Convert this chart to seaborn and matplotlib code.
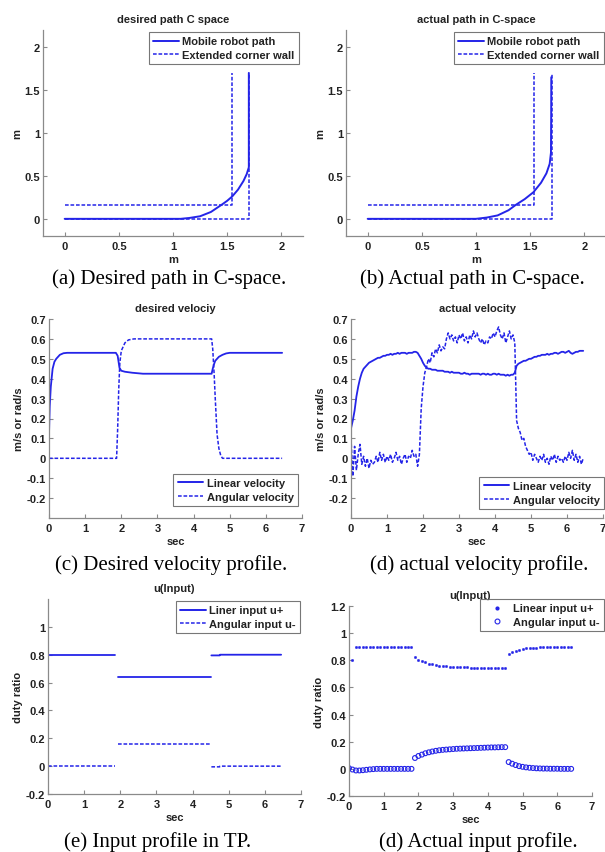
import numpy as np
import pandas as pd
import matplotlib
matplotlib.use("Agg")
import matplotlib.pyplot as plt
from matplotlib.lines import Line2D
from matplotlib.ticker import FuncFormatter
import seaborn as sns

sns.set_style("ticks")
plt.rcParams["font.family"] = ["Liberation Sans", "DejaVu Sans"]

BLUE = "#2424e8"
DASH = (0, (2.4, 1.2))

# ---------------- (a) desired path in C-space ----------------
path_des_x = [0.0, 1.07, 1.15, 1.25, 1.35, 1.45, 1.50, 1.546, 1.60, 1.65, 1.68, 1.70, 1.70]
path_des_y = [0.0, 0.0, 0.01, 0.03, 0.08, 0.165, 0.21, 0.26, 0.34, 0.44, 0.52, 0.60, 1.70]
wall_des_inner_x = [0.0, 1.54, 1.54]
wall_des_inner_y = [0.165, 0.165, 1.70]
wall_des_outer_x = [0.0, 1.70, 1.70]
wall_des_outer_y = [0.0, 0.0, 1.70]

# ---------------- (b) actual path in C-space ----------------
path_act_x = [0.0, 1.00, 1.10, 1.20, 1.30, 1.37, 1.45, 1.53, 1.60, 1.65, 1.68, 1.692, 1.694, 1.695]
path_act_y = [0.0, 0.0, 0.015, 0.04, 0.10, 0.165, 0.23, 0.31, 0.42, 0.53, 0.64, 0.77, 1.20, 1.65]
wall_act_inner_x = [0.0, 1.535, 1.535]
wall_act_inner_y = [0.165, 0.165, 1.70]
wall_act_outer_x = [0.0, 1.70, 1.70]
wall_act_outer_y = [0.0, 0.0, 1.70]

# ---------------- (c) desired velocity ----------------
t_vdes = [0.0, 0.02, 0.05, 0.10, 0.15, 0.20, 0.30, 0.40, 0.50, 1.85, 1.90, 1.95,
          2.00, 2.10, 2.30, 2.60, 4.50, 4.53, 4.56, 4.60, 4.70, 4.80, 4.90, 5.00, 6.45]
v_des = [0.12, 0.26, 0.36, 0.45, 0.485, 0.50, 0.52, 0.528, 0.53, 0.53, 0.515, 0.455,
         0.44, 0.435, 0.43, 0.425, 0.425, 0.45, 0.47, 0.49, 0.51, 0.52, 0.527, 0.53, 0.53]
t_wdes = [0.0, 1.87, 1.90, 1.93, 1.96, 2.00, 2.10, 2.20, 2.35, 4.50, 4.53, 4.57,
          4.60, 4.65, 4.70, 4.75, 4.80, 6.45]
w_des = [0.0, 0.0, 0.15, 0.35, 0.48, 0.54, 0.58, 0.595, 0.60, 0.60, 0.55, 0.42,
         0.30, 0.12, 0.05, 0.015, 0.0, 0.0]

# ---------------- (d) actual velocity (sampled every 0.05 s) ----------------
t_vact = np.round(np.arange(0, 6.46, 0.05), 2)
v_act = [
    0.15, 0.19, 0.24, 0.31, 0.36, 0.40, 0.43, 0.45, 0.46, 0.47,
    0.48, 0.485, 0.49, 0.495, 0.50, 0.505, 0.505, 0.51, 0.515, 0.515,
    0.52, 0.52, 0.525, 0.52, 0.525, 0.525, 0.53, 0.525, 0.53, 0.53,
    0.53, 0.525, 0.53, 0.53, 0.53, 0.535, 0.535, 0.53, 0.515, 0.50,
    0.48, 0.465, 0.455, 0.45, 0.45, 0.445, 0.445, 0.445, 0.44, 0.44,
    0.44, 0.44, 0.435, 0.435, 0.435, 0.43, 0.435, 0.43, 0.43, 0.43,
    0.43, 0.425, 0.425, 0.43, 0.425, 0.425, 0.42, 0.425, 0.425, 0.425,
    0.425, 0.425, 0.42, 0.425, 0.425, 0.42, 0.425, 0.42, 0.42, 0.425,
    0.425, 0.42, 0.425, 0.42, 0.42, 0.42, 0.415, 0.42, 0.415, 0.42,
    0.42, 0.43, 0.465, 0.475, 0.48, 0.485, 0.49, 0.49, 0.495, 0.50,
    0.50, 0.505, 0.51, 0.51, 0.515, 0.515, 0.52, 0.52, 0.52, 0.525,
    0.52, 0.525, 0.525, 0.53, 0.53, 0.525, 0.53, 0.535, 0.535, 0.53,
    0.535, 0.54, 0.53, 0.525, 0.53, 0.535, 0.535, 0.54, 0.54, 0.54,
]
w_act = [
    0.10, -0.09, 0.06, -0.06, 0.02, 0.07, -0.03, 0.01, -0.04, 0.00,
    -0.05, -0.01, -0.03, -0.02, 0.01, -0.02, 0.03, -0.01, 0.02, -0.02,
    0.01, -0.01, 0.02, -0.02, 0.00, 0.03, -0.01, 0.01, -0.03, 0.00,
    0.02, -0.02, 0.01, 0.00, 0.04, 0.01, 0.02, -0.04, 0.02, 0.25,
    0.36, 0.43, 0.46, 0.50, 0.48, 0.53, 0.51, 0.55, 0.53, 0.57,
    0.54, 0.56, 0.55, 0.60, 0.63, 0.60, 0.62, 0.59, 0.61, 0.58,
    0.62, 0.60, 0.63, 0.59, 0.61, 0.58, 0.62, 0.60, 0.64, 0.61,
    0.63, 0.60, 0.58, 0.60, 0.57, 0.59, 0.58, 0.61, 0.60, 0.63,
    0.61, 0.64, 0.66, 0.62, 0.60, 0.63, 0.58, 0.61, 0.64, 0.60,
    0.62, 0.58, 0.19, 0.15, 0.13, 0.09, 0.10, 0.06, 0.04, 0.02,
    0.03, -0.01, 0.02, 0.00, -0.02, 0.01, -0.01, 0.02, -0.02, 0.00,
    -0.03, 0.01, -0.01, 0.02, -0.02, 0.01, -0.01, 0.00, -0.02, 0.01,
    -0.01, 0.03, 0.00, 0.04, -0.01, 0.02, -0.02, 0.01, -0.03, 0.00,
]

# ---------------- (e) input profile in TP (three constant segments) ----------------
t_uplus = [0.0, 1.85, 1.95, 4.50, 4.52, 4.75, 4.76, 6.45]
u_plus = [0.80, 0.80, 0.64, 0.64, 0.795, 0.795, 0.80, 0.80]
seg_uplus = [0, 0, 1, 1, 2, 2, 2, 2]
t_uminus = [0.0, 1.85, 1.95, 4.50, 4.52, 4.75, 4.76, 6.45]
u_minus = [0.0, 0.0, 0.16, 0.16, -0.005, -0.005, 0.0, 0.0]
seg_uminus = [0, 0, 1, 1, 2, 2, 2, 2]

# ---------------- (f) actual input profile (sampled every 0.1 s) ----------------
t_u = np.round(np.arange(0, 6.45, 0.1), 1)
lin_u = [0.0, 0.80] + [0.895] * 17 + [
    0.825, 0.805, 0.795, 0.785, 0.775, 0.77, 0.765, 0.76, 0.758, 0.756,
    0.754, 0.752, 0.75, 0.75, 0.748, 0.748, 0.746, 0.746, 0.745, 0.744,
    0.743, 0.742, 0.742, 0.741, 0.741, 0.74, 0.74,
    0.85, 0.86, 0.87, 0.878, 0.884, 0.888, 0.89, 0.892, 0.894, 0.895,
    0.896, 0.896, 0.897, 0.897, 0.897, 0.898, 0.898, 0.898, 0.898,
]
ang_u = [
    0.005, -0.005, -0.012, -0.012, -0.01, -0.007, -0.004, -0.002, 0.0, 0.0,
    0.0, 0.0, 0.0, 0.0, 0.0, 0.0, 0.0, 0.0, 0.0,
    0.08, 0.095, 0.105, 0.115, 0.122, 0.128, 0.133, 0.137, 0.14, 0.142,
    0.144, 0.146, 0.148, 0.149, 0.15, 0.151, 0.152, 0.153, 0.154, 0.155,
    0.156, 0.157, 0.158, 0.158, 0.159, 0.16, 0.16,
    0.05, 0.038, 0.028, 0.02, 0.015, 0.011, 0.008, 0.006, 0.004, 0.003,
    0.002, 0.002, 0.001, 0.001, 0.001, 0.0, 0.0, 0.0, 0.0,
]

W, H = 605, 853
fig = plt.figure(figsize=(W / 100, H / 100), dpi=100)
fig.patch.set_facecolor("white")


def add_ax(left, top, right, bottom):
    return fig.add_axes([left / W, 1 - bottom / H, (right - left) / W, (bottom - top) / H])


fmt = FuncFormatter(lambda v, p: f"{v:g}")


def style(ax, title, xlabel, ylabel):
    sns.despine(ax=ax)
    for s in ("left", "bottom"):
        ax.spines[s].set_color("#8a8a8a")
        ax.spines[s].set_linewidth(0.9)
    ax.tick_params(direction="in", length=3, width=0.8, color="#8a8a8a",
                   labelsize=8, labelcolor="#222222")
    ax.tick_params(axis="x", pad=3.5)
    ax.tick_params(axis="y", pad=2)
    for lab in ax.get_xticklabels() + ax.get_yticklabels():
        lab.set_fontweight("bold")
    ax.xaxis.set_major_formatter(fmt)
    ax.yaxis.set_major_formatter(fmt)
    ax.set_title(title, fontsize=8, fontweight="bold", color="#222222", pad=6)
    ax.set_xlabel(xlabel, fontsize=8, fontweight="bold", color="#222222", labelpad=2)
    ax.set_ylabel(ylabel, fontsize=8, fontweight="bold", color="#222222", labelpad=2)
    ax.set_facecolor("white")


def legend(ax, handles, labels, anchor, loc):
    leg = ax.legend(handles, labels, loc=loc,
                    bbox_to_anchor=(anchor[0] / W, 1 - anchor[1] / H),
                    bbox_transform=fig.transFigure,
                    prop={"weight": "bold", "size": 8}, frameon=True, fancybox=False,
                    borderpad=0.4, handlelength=2.3, handletextpad=0.3,
                    labelspacing=0.3, borderaxespad=0.0)
    leg.get_frame().set_edgecolor("#555555")
    leg.get_frame().set_linewidth(0.8)
    for t in leg.get_texts():
        t.set_color("#222222")


def path_panel(ax, px, py, ix, iy, ox, oy, title):
    walls = pd.DataFrame({
        "x": list(ix) + list(ox),
        "y": list(iy) + list(oy),
        "seg": [0] * len(ix) + [1] * len(ox),
    })
    sns.lineplot(data=walls, x="x", y="y", units="seg", estimator=None, sort=False,
                 color=BLUE, lw=1.1, linestyle=DASH, ax=ax)
    sns.lineplot(x=px, y=py, estimator=None, sort=False, color=BLUE, lw=1.4, ax=ax)
    ax.set_xlim(-0.2, 2.2)
    ax.set_ylim(-0.2, 2.2)
    ax.set_xticks([0, 0.5, 1, 1.5, 2])
    ax.set_yticks([0, 0.5, 1, 1.5, 2])
    style(ax, title, "m", "m")


ax_a = add_ax(43, 31, 303, 237)
path_panel(ax_a, path_des_x, path_des_y, wall_des_inner_x, wall_des_inner_y,
           wall_des_outer_x, wall_des_outer_y, "desired path C space")
ax_b = add_ax(346, 31, 606, 237)
path_panel(ax_b, path_act_x, path_act_y, wall_act_inner_x, wall_act_inner_y,
           wall_act_outer_x, wall_act_outer_y, "actual path in C-space")

h_solid = Line2D([], [], color=BLUE, lw=1.4)
h_dash = Line2D([], [], color=BLUE, lw=1.1, linestyle=DASH)
legend(ax_a, [h_solid, h_dash], ["Mobile robot path", "Extended corner wall"], (299, 33), "upper right")
legend(ax_b, [h_solid, h_dash], ["Mobile robot path", "Extended corner wall"], (604, 33), "upper right")


def vel_panel(ax, tv, v, tw, w, title):
    sns.lineplot(x=tv, y=v, estimator=None, sort=False, color=BLUE, lw=1.3, ax=ax)
    sns.lineplot(x=tw, y=w, estimator=None, sort=False, color=BLUE, lw=1.1,
                 linestyle=DASH, ax=ax)
    ax.set_xlim(0, 7)
    ax.set_ylim(-0.3, 0.7)
    ax.set_xticks(range(0, 8))
    ax.set_yticks([-0.2, -0.1, 0, 0.1, 0.2, 0.3, 0.4, 0.5, 0.6, 0.7])
    style(ax, title, "sec", "m/s or rad/s")


ax_c = add_ax(49, 320, 302, 519)
vel_panel(ax_c, t_vdes, v_des, t_wdes, w_des, "desired velociy")
ax_d = add_ax(351, 320, 603, 519)
vel_panel(ax_d, t_vact, v_act, t_vact, w_act, "actual velocity")
legend(ax_c, [h_solid, h_dash], ["Linear velocity", "Angular velocity"], (298, 507), "lower right")
legend(ax_d, [h_solid, h_dash], ["Linear velocity", "Angular velocity"], (604, 510), "lower right")

# (e) input profile in TP
ax_e = add_ax(48, 600, 301, 795)
sns.lineplot(x=t_uplus, y=u_plus, units=seg_uplus, estimator=None, sort=False,
             color=BLUE, lw=1.3, ax=ax_e)
sns.lineplot(x=t_uminus, y=u_minus, units=seg_uminus, estimator=None, sort=False,
             color=BLUE, lw=1.1, linestyle=DASH, ax=ax_e)
ax_e.set_xlim(0, 7)
ax_e.set_ylim(-0.2, 1.2)
ax_e.set_xticks(range(0, 8))
ax_e.set_yticks([-0.2, 0, 0.2, 0.4, 0.6, 0.8, 1.0])
style(ax_e, "u(Input)", "sec", "duty ratio")
legend(ax_e, [h_solid, h_dash], ["Liner input u+", "Angular input u-"], (300, 602), "upper right")

# (f) actual input profile
ax_f = add_ax(349, 607, 592, 797)
sns.scatterplot(x=t_u, y=lin_u, marker=".", s=12, color=BLUE, edgecolor=BLUE,
                linewidth=0.3, ax=ax_f)
sns.scatterplot(x=t_u, y=ang_u, marker="o", s=12, color=BLUE, ax=ax_f)
circ = ax_f.collections[-1]
circ.set_facecolor("none")
circ.set_edgecolor(BLUE)
circ.set_linewidth(0.8)
ax_f.set_xlim(0, 7)
ax_f.set_ylim(-0.2, 1.2)
ax_f.set_xticks(range(0, 8))
ax_f.set_yticks([-0.2, 0, 0.2, 0.4, 0.6, 0.8, 1.0, 1.2])
style(ax_f, "u(Input)", "sec", "duty ratio")
h_dot = Line2D([], [], color=BLUE, marker=".", ms=4, lw=0)
h_circ = Line2D([], [], color=BLUE, marker="o", ms=3.5, mfc="none", mew=0.8, lw=0)
legend(ax_f, [h_dot, h_circ], ["Linear input u+", "Angular input u-"], (604, 600), "upper right")

# sub-figure captions
serif = ["Liberation Serif", "DejaVu Serif"]
captions = [
    (169, 279, "(a) Desired path in C-space."),
    (472, 279, "(b) Actual path in C-space."),
    (171, 565, "(c) Desired velocity profile."),
    (479, 565, "(d) actual velocity profile."),
    (158, 842, "(e) Input profile in TP."),
    (478, 842, "(d) Actual input profile."),
]
for x, y, s in captions:
    fig.text(x / W, 1 - y / H, s, ha="center", va="center", family=serif,
             fontsize=15, color="black")

fig.savefig("out.png", dpi=100, facecolor="white")
